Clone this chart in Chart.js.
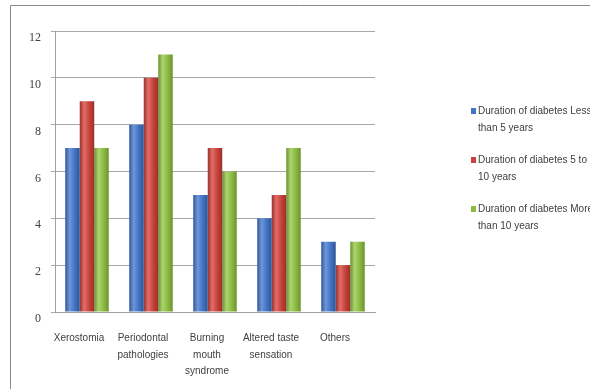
<!DOCTYPE html>
<html><head><meta charset="utf-8">
<script src="https://cdn.jsdelivr.net/npm/chart.js@4/dist/chart.umd.min.js"></script>
<style>html,body{margin:0;padding:0;background:#fff}#w{width:590px;height:389px;position:relative}</style>
</head><body><div id="w"><canvas id="c"></canvas></div>
<script>
const categories = [["Xerostomia"], ["Periodontal","pathologies"], ["Burning","mouth","syndrome"], ["Altered taste","sensation"], ["Others"]];
const seriesNames = ["Duration of diabetes Less than 5 years", "Duration of diabetes 5 to 10 years", "Duration of diabetes More than 10 years"];
const legendLines = [["Duration of diabetes Less","than 5 years"], ["Duration of diabetes 5 to","10 years"], ["Duration of diabetes More","than 10 years"]];
const lessThan5 = [7, 8, 5, 4, 3];
const from5to10 = [9, 10, 7, 5, 2];
const moreThan10 = [7, 11, 6, 7, 3];
const yTicks = [0, 2, 4, 6, 8, 10, 12];
const colors = ["#4374c4", "#c9433c", "#8cbb44"];
const darkColors = ["#2f5597", "#9a2f2a", "#6a9430"];
const lightColors = ["#6d96da", "#e06f68", "#acd36c"];

const shadePlugin = {
  id: 'shade',
  beforeDatasetsDraw(chart) {
    const ctx = chart.ctx;
    chart.data.datasets.forEach((ds, i) => {
      const meta = chart.getDatasetMeta(i);
      meta.data.forEach(el => {
        const x0 = el.x - el.width / 2, x1 = el.x + el.width / 2;
        const g = ctx.createLinearGradient(x0, 0, x1, 0);
        g.addColorStop(0, darkColors[i]);
        g.addColorStop(0.3, lightColors[i]);
        g.addColorStop(0.65, colors[i]);
        g.addColorStop(1, darkColors[i]);
        el.options = Object.assign({}, el.options, { backgroundColor: g });
      });
    });
  }
};

const framePlugin = {
  id: 'frame',
  afterDraw(chart) {
    const ctx = chart.ctx;
    ctx.save();
    ctx.strokeStyle = '#8a8a8a';
    ctx.lineWidth = 1;
    ctx.beginPath();
    ctx.moveTo(10.5, 389); ctx.lineTo(10.5, 5.5); ctx.lineTo(590, 5.5);
    ctx.stroke();
    ctx.font = '10px "Liberation Sans", sans-serif';
    ctx.textBaseline = 'middle';
    const tops = [111, 160, 209];
    chart.data.datasets.forEach((ds, i) => {
      ctx.fillStyle = colors[i];
      ctx.fillRect(471, tops[i] - 3, 5, 6);
      ctx.fillStyle = '#404040';
      legendLines[i].forEach((t, j) => ctx.fillText(t, 478, tops[i] + j * 17));
    });
    ctx.restore();
  }
};

new Chart(document.getElementById('c'), {
  type: 'bar',
  data: {
    labels: categories,
    datasets: [
      { label: seriesNames[0], data: lessThan5, backgroundColor: colors[0] },
      { label: seriesNames[1], data: from5to10, backgroundColor: colors[1] },
      { label: seriesNames[2], data: moreThan10, backgroundColor: colors[2] }
    ]
  },
  options: {
    responsive: true,
    maintainAspectRatio: false,
    animation: false,
    layout: { padding: { left: 15, right: 215, top: 31, bottom: 0 } },
    plugins: { legend: { display: false }, tooltip: { enabled: false } },
    datasets: { bar: { barPercentage: 1, categoryPercentage: 0.68 } },
    scales: {
      x: {
        grid: { display: false, drawTicks: false },
        border: { display: true, color: '#a0a0a0' },
        ticks: { color: '#404040', font: { family: '"Liberation Sans", sans-serif', size: 10, lineHeight: 1.65 }, maxRotation: 0, autoSkip: false, padding: 18, labelOffset: -8 },
        afterFit(s) { s.height = 77; }
      },
      y: {
        min: 0, max: 12,
        afterBuildTicks(s) { s.ticks = yTicks.map(v => ({ value: v })); },
        grid: { color: '#a8a8a8', drawTicks: true, tickLength: 4 },
        border: { display: true, color: '#a0a0a0' },
        ticks: { color: '#404040', font: { family: '"Liberation Serif", serif', size: 12 }, padding: 10, labelOffset: 7 },
        afterFit(s) { s.width = 40; }
      }
    }
  },
  plugins: [shadePlugin, framePlugin]
});
</script></body></html>
